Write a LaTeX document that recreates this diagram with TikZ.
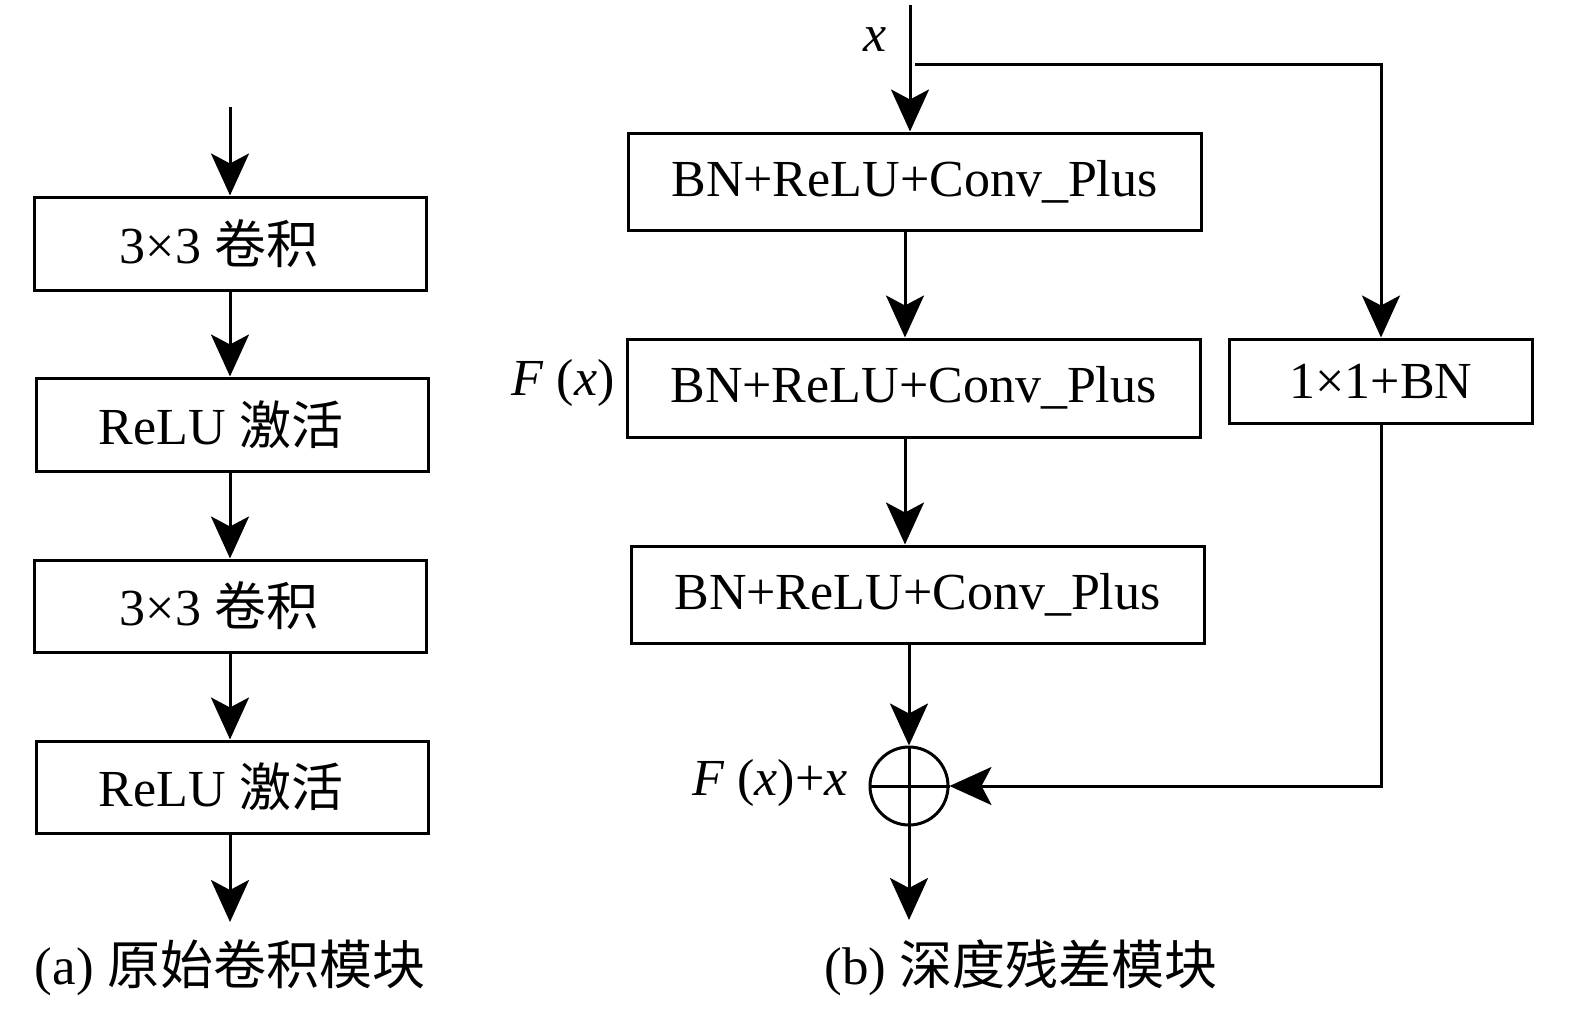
\documentclass[tikz,border=0pt]{standalone}
\usepackage{fontspec}
\setmainfont{Liberation Serif}
\newfontfamily\cjk{Noto Sans CJK SC}
\usetikzlibrary{arrows.meta}
\begin{document}
\begin{tikzpicture}[x=1pt,y=-1pt,
  box/.style={draw, line width=3pt, inner sep=0pt, font=\fontsize{52}{60}\selectfont},
  lbl/.style={font=\fontsize{52}{60}\selectfont, inner sep=0pt},
  captext/.style={font=\fontsize{53}{60}\selectfont, inner sep=0pt},
  arr/.style={line width=3pt, -{Stealth[length=42pt,width=38pt,inset=10pt]}},
  ln/.style={line width=3pt}]
\useasboundingbox (0,0) rectangle (1575,1012);
% left column
\node[box, minimum width=392pt, minimum height=93pt] (a1) at (230,243.5) {\hspace*{-22pt}3×3 {\cjk 卷积}};
\node[box, minimum width=392pt, minimum height=93pt] (a2) at (232,424.5) {\hspace*{-22pt}ReLU {\cjk 激活}};
\node[box, minimum width=392pt, minimum height=92pt] (a3) at (230,606) {\hspace*{-22pt}3×3 {\cjk 卷积}};
\node[box, minimum width=392pt, minimum height=92pt] (a4) at (232,787) {\hspace*{-22pt}ReLU {\cjk 激活}};
\coordinate (ain) at (230,107);
\coordinate (aout) at (230,922);
\draw[arr] (ain) -- (ain |- a1.north);
\draw[arr] (a1.south) -- (a1.south |- a2.north);
\draw[arr] (a1.south |- a2.south) -- (a1.south |- a3.north);
\draw[arr] (a3.south) -- (a3.south |- a4.north);
\draw[arr] (a3.south |- a4.south) -- (aout);
\node[captext] (capa) at (230,968) {(a) {\cjk 原始卷积模块}};
% right column
\node[box, minimum width=573pt, minimum height=97pt] (b1) at (914.5,181.5) {BN+ReLU+Conv\_Plus};
\node[box, minimum width=573pt, minimum height=98pt] (b2) at (913.5,388) {BN+ReLU+Conv\_Plus};
\node[box, minimum width=573pt, minimum height=97pt] (b3) at (917.5,594.5) {BN+ReLU+Conv\_Plus};
\node[box, minimum width=303pt, minimum height=84pt] (s) at (1381,381) {1×1+BN};
\node[draw, line width=3pt, circle, minimum size=78pt, inner sep=0pt] (c) at (909,786) {};
\draw[ln] (c.north) -- (c.south) (c.west) -- (c.east);
\coordinate (xin) at (910,5);
\coordinate (br) at (915,64);
\coordinate (k1) at (905,0);
\coordinate (bout) at (909,920);
\draw[arr] (xin) -- (xin |- b1.north);
\draw[arr] (k1 |- b1.south) -- (k1 |- b2.north);
\draw[arr] (k1 |- b2.south) -- (k1 |- b3.north);
\draw[arr] (c |- b3.south) -- (c.north);
\draw[arr] (c.south) -- (bout);
\draw[arr] (br) -- (s.north |- br) -- (s.north);
\draw[arr] (s.south) |- (c.east);
\node[lbl] (lx) at (875,40) {\textit{x}};
\node[lbl] (lf) at (563,383) {\textit{F} (\textit{x})};
\node[lbl] (lfx) at (770,783) {\textit{F} (\textit{x})+\textit{x}};
\node[captext] (capb) at (1021,968) {(b) {\cjk 深度残差模块}};
\end{tikzpicture}
\end{document}
